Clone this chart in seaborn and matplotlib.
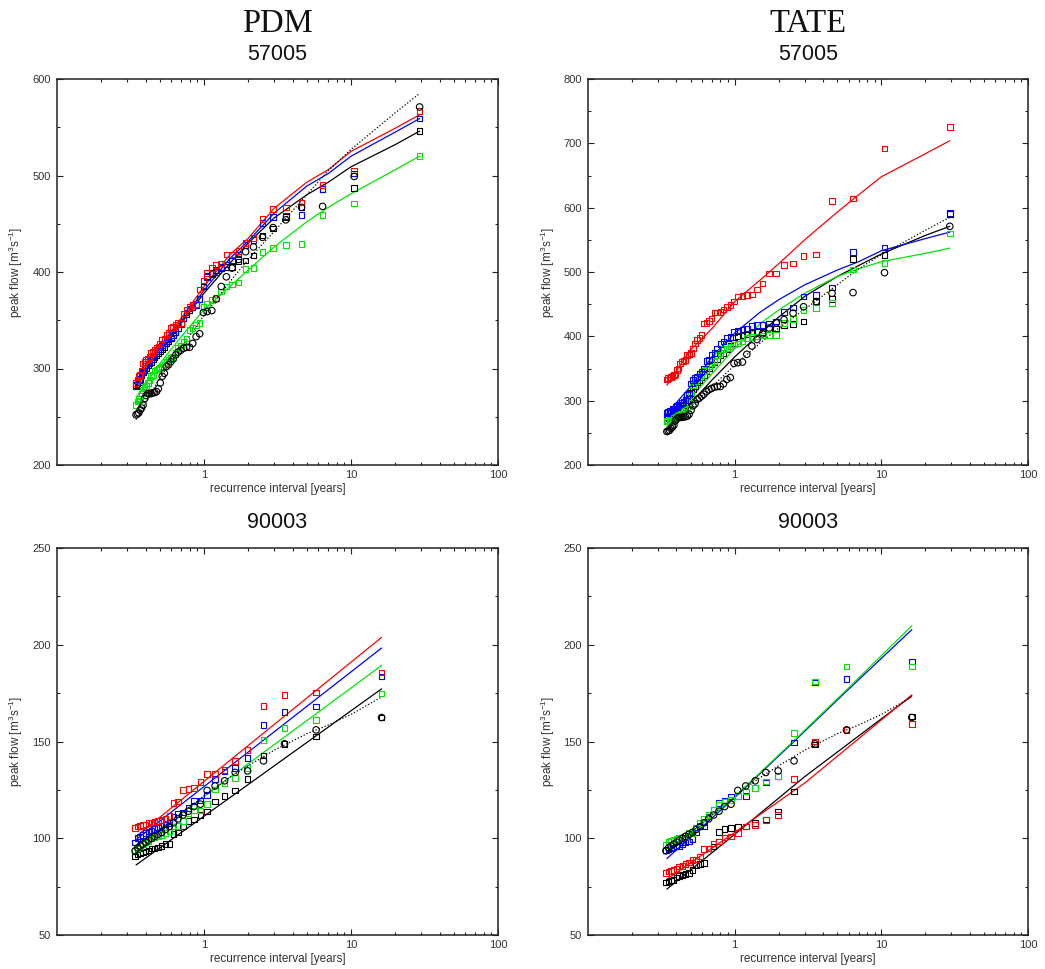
import matplotlib
matplotlib.use("Agg")
import matplotlib.pyplot as plt
import seaborn as sns
from matplotlib.ticker import LogLocator, NullFormatter, MultipleLocator

sns.set_theme(style="ticks")
plt.rcParams["font.family"] = ["Liberation Sans", "DejaVu Sans"]
plt.rcParams["mathtext.default"] = "regular"

# ---------------- station 57005 ----------------
# recurrence intervals of the ranked peaks (years)
x_57005 = [29.29, 10.51, 6.41, 4.61, 3.60, 2.95, 2.50, 2.17, 1.92, 1.72,
           1.55, 1.42, 1.31, 1.21, 1.13, 1.05, 0.99, 0.934, 0.884, 0.838,
           0.798, 0.761, 0.727, 0.696, 0.668, 0.642, 0.617, 0.595, 0.574, 0.555,
           0.537, 0.520, 0.504, 0.489, 0.475, 0.461, 0.449, 0.437, 0.425, 0.415,
           0.404, 0.395, 0.385, 0.376, 0.368, 0.360, 0.352, 0.345]

obs_57005 = [571, 499, 468, 467, 454, 446, 436, 426, 421, 413,
             404, 395, 385, 372, 360, 359, 358, 336, 333, 326,
             322, 322, 321, 319, 317, 314, 310, 307, 304, 302,
             295, 292, 285, 279, 276, 275, 275, 274, 274, 274,
             272, 269, 262, 259, 257, 254, 253, 252]

pdm_57005_red = [567, 505, 490, 472, 467, 465, 455, 435, 430, 422,
                 418, 418, 409, 407, 404, 399, 391, 382, 367, 366,
                 364, 361, 357, 347, 347, 345, 343, 342, 337, 335,
                 331, 330, 326, 323, 321, 319, 317, 316, 312, 310,
                 309, 307, 305, 298, 293, 292, 288, 285]
pdm_57005_blue = [559, 502, 486, 459, 458, 457, 451, 433, 428, 418,
                  412, 408, 405, 400, 398, 395, 386, 372, 366, 364,
                  362, 358, 352, 346, 342, 338, 335, 332, 330, 328,
                  326, 324, 322, 320, 318, 316, 313, 310, 307, 305,
                  303, 300, 297, 295, 292, 289, 286, 282]
pdm_57005_black = [546, 487, 486, 467, 457, 445, 438, 417, 412, 411,
                   405, 405, 404, 402, 399, 396, 385, 372, 366, 363,
                   360, 356, 352, 347, 342, 338, 334, 331, 328, 326,
                   322, 320, 318, 316, 314, 312, 310, 307, 305, 303,
                   300, 298, 296, 293, 288, 286, 284, 283]
pdm_57005_green = [520, 471, 459, 429, 428, 425, 421, 404, 403, 389,
                   387, 385, 380, 373, 371, 367, 364, 347, 345, 342,
                   340, 331, 328, 324, 321, 316, 312, 311, 309, 307,
                   304, 302, 301, 300, 299, 298, 293, 292, 288, 285,
                   282, 281, 278, 274, 269, 267, 266, 262]

tate_57005_red = [725, 692, 614, 610, 527, 525, 513, 511, 498, 498,
                  482, 473, 465, 464, 463, 462, 454, 449, 446, 442,
                  438, 437, 437, 428, 424, 421, 420, 402, 397, 394,
                  389, 381, 374, 372, 371, 363, 362, 361, 358, 350,
                  348, 341, 340, 338, 337, 336, 335, 333]
tate_57005_blue = [592, 538, 531, 476, 464, 462, 445, 438, 423, 420,
                   418, 418, 416, 412, 410, 409, 407, 399, 397, 392,
                   388, 381, 374, 372, 363, 362, 350, 345, 342, 337,
                   335, 332, 327, 311, 309, 301, 298, 296, 294, 293,
                   292, 290, 288, 287, 285, 284, 283, 281]
tate_57005_black = [590, 526, 520, 458, 454, 423, 419, 418, 412, 411,
                    407, 407, 405, 403, 402, 400, 390, 385, 380, 374,
                    370, 365, 360, 356, 350, 345, 340, 336, 332, 328,
                    322, 318, 312, 305, 300, 296, 292, 289, 287, 285,
                    283, 281, 280, 278, 276, 275, 274, 272]
tate_57005_green = [560, 514, 504, 452, 444, 441, 427, 421, 402, 402,
                    401, 400, 399, 397, 392, 389, 387, 384, 381, 380,
                    374, 371, 361, 358, 353, 348, 346, 340, 337, 335,
                    330, 324, 309, 296, 288, 286, 283, 280, 279, 278,
                    276, 275, 274, 273, 271, 270, 269, 268]

# fitted frequency curves, 57005
xc_57005 = [0.345, 0.5, 0.7, 1.0, 1.5, 2.0, 3.0, 5.0, 7.0, 10.0, 20.0, 29.3]
fit_57005 = [247, 290, 322, 355, 390, 413, 442, 480, 505, 527, 565, 585]
pdm_57005_red_curve = [286, 323, 352, 385, 418, 435, 466, 493, 506, 525, 549, 563]
pdm_57005_blue_curve = [281, 320, 349, 381, 414, 432, 461, 489, 502, 520, 545, 559]
pdm_57005_black_curve = [283, 319, 347, 378, 409, 430, 456, 480, 493, 509, 532, 546]
pdm_57005_green_curve = [270, 305, 333, 361, 385, 402, 426, 452, 467, 481, 506, 520]
tate_57005_red_curve = [324, 379, 412, 454, 488, 513, 550, 593, 620, 648, 684, 704]
tate_57005_blue_curve = [280, 322, 368, 405, 438, 457, 480, 503, 516, 533, 552, 562]
tate_57005_black_curve = [254, 296, 332, 368, 405, 430, 462, 493, 510, 528, 557, 571]
tate_57005_green_curve = [260, 304, 342, 381, 420, 441, 467, 493, 505, 516, 529, 537]

# ---------------- station 90003 ----------------
x_90003 = [16.14, 5.79, 3.53, 2.54, 1.98, 1.63, 1.38, 1.19, 1.05, 0.945,
           0.855, 0.782, 0.719, 0.665, 0.620, 0.581, 0.546, 0.515, 0.487, 0.462,
           0.440, 0.419, 0.401, 0.384, 0.368, 0.354, 0.340]

obs_90003 = [162.4, 156.0, 148.8, 140.0, 134.8, 134.0, 129.7, 127.0, 124.7, 117.6,
             116.4, 114.0, 112.0, 110.0, 108.0, 106.0, 104.5, 103.0, 102.0, 101.0,
             100.0, 99.0, 98.0, 97.0, 96.0, 95.0, 93.5]

pdm_90003_red = [185.7, 175.3, 174.1, 168.4, 145.7, 140.0, 135.3, 133.3, 133.1, 129.0,
                 125.9, 125.5, 125.0, 119.0, 118.1, 111.6, 110.3, 109.5, 109.0, 108.3,
                 108.1, 107.8, 107.2, 106.9, 106.4, 106.0, 105.2]
pdm_90003_blue = [183.6, 168.1, 165.2, 158.6, 141.4, 136.2, 134.5, 130.5, 122.4, 119.5,
                  119.3, 115.5, 113.3, 112.6, 111.2, 107.8, 107.2, 106.6, 105.5, 104.8,
                  104.0, 103.4, 102.6, 101.7, 100.9, 100.0, 97.8]
pdm_90003_black = [162.5, 152.6, 148.8, 142.8, 130.5, 124.7, 121.9, 119.0, 113.8, 112.1,
                   109.8, 109.0, 106.0, 102.9, 102.1, 97.1, 96.9, 96.0, 95.3, 94.8,
                   94.8, 93.6, 93.1, 92.6, 92.2, 91.7, 90.5]
pdm_90003_green = [174.7, 161.2, 156.9, 150.9, 136.2, 131.0, 128.4, 125.3, 117.8, 114.3,
                   114.3, 112.9, 109.0, 106.4, 106.0, 103.4, 102.6, 101.7, 101.2, 100.3,
                   100.0, 98.3, 97.8, 96.9, 96.0, 94.8, 93.6]

tate_90003_red = [159.0, 156.0, 150.0, 130.5, 112.1, 109.5, 106.9, 106.0, 102.6, 100.9,
                  100.5, 98.3, 97.4, 94.8, 94.5, 90.5, 89.1, 88.8, 87.4, 86.7,
                  85.7, 85.3, 84.0, 83.6, 83.1, 82.8, 81.9]
tate_90003_blue = [191.4, 182.4, 180.5, 149.5, 132.2, 128.8, 125.9, 121.9, 121.9, 121.6,
                   119.3, 118.1, 114.7, 111.2, 106.0, 106.0, 102.9, 99.5, 98.3, 97.8,
                   96.9, 96.0, 95.7, 95.3, 94.8, 94.3, 94.0]
tate_90003_black = [162.9, 156.0, 148.5, 124.1, 113.8, 109.8, 108.0, 106.0, 105.7, 105.2,
                    104.7, 103.1, 95.7, 94.8, 87.1, 86.7, 86.2, 83.6, 81.9, 81.6,
                    81.0, 80.5, 79.7, 78.4, 78.1, 77.6, 77.1]
tate_90003_green = [188.8, 188.8, 181.0, 154.3, 132.2, 129.3, 125.9, 124.1, 121.9, 119.8,
                    119.0, 117.2, 114.7, 112.1, 110.3, 107.8, 105.2, 102.6, 102.6, 101.2,
                    100.5, 100.0, 99.5, 99.1, 98.8, 98.3, 96.6]

# fitted frequency curves, 90003
xc_90003 = [0.345, 0.5, 0.7, 1.0, 1.5, 2.0, 3.0, 5.0, 7.0, 10.0, 16.14]
fit_90003 = [93, 103, 112, 122, 131.5, 137.5, 145.5, 154, 158.5, 164, 173]
xs_90003 = [0.345, 16.14]
pdm_90003_red_curve = [100.9, 203.8]
pdm_90003_blue_curve = [99.3, 198.3]
pdm_90003_black_curve = [86.2, 177.2]
pdm_90003_green_curve = [95.7, 189.3]
xg_90003 = [0.345, 1.0, 2.5, 5.79, 16.14]
tate_90003_green_curve = [93.0, 121.5, 150.0, 176.7, 209.8]
tate_90003_blue_curve = [89.5, 121.0, 149.5, 176.0, 207.8]
xk_90003 = [0.345, 1.0, 3.0, 16.14]
tate_90003_black_curve = [73.7, 102.0, 131.8, 173.6]
tate_90003_red_curve = [78.8, 103.0, 128.5, 174.1]

RED, BLUE, GREEN, BLACK = "#ff0000", "#0000ff", "#00e600", "#000000"
TXT = "#333333"

W, H = 1045, 969
fig = plt.figure(figsize=(W / 100, H / 100), dpi=100)


def make_axes(left, top, right, bottom):
    return fig.add_axes([left / W, 1 - bottom / H, (right - left) / W, (bottom - top) / H])


def style_axes(ax, ylim, ymajor, yminor, ylab_x):
    ax.set_xscale("log")
    ax.set_xlim(0.1, 100)
    ax.set_ylim(*ylim)
    ax.set_xticks([1, 10, 100], labels=["1", "10", "100"])
    ax.xaxis.set_minor_locator(LogLocator(base=10, subs=range(2, 10)))
    ax.xaxis.set_minor_formatter(NullFormatter())
    ax.yaxis.set_major_locator(MultipleLocator(ymajor))
    ax.yaxis.set_minor_locator(MultipleLocator(yminor))
    ax.tick_params(which="both", direction="in", top=True, right=True,
                   color="#222222", width=0.8, labelsize=8, labelcolor=TXT)
    ax.tick_params(which="major", length=4)
    ax.tick_params(which="minor", length=2.5)
    ax.tick_params(axis="x", pad=3.5)
    ax.tick_params(axis="y", pad=4.5)
    for sp in ax.spines.values():
        sp.set_linewidth(1.1)
        sp.set_color("#222222")
    ax.set_xlabel("recurrence interval [years]", fontsize=8.5, color=TXT, labelpad=2)
    ax.set_ylabel("peak flow [m$^{3}$s$^{-1}$]", fontsize=8.5, color=TXT)
    ax.yaxis.set_label_coords(ylab_x, 0.5)
    ax.grid(False)


def draw(ax, xp, obs, squares, curves, xfit, fit):
    for color, (cx, cy) in curves:
        sns.lineplot(x=cx, y=cy, ax=ax, color=color, linewidth=0.9,
                     sort=False, estimator=None, zorder=2)
    sns.lineplot(x=xfit, y=fit, ax=ax, color=BLACK, linewidth=0.9,
                 linestyle=(0, (1, 1.6)), sort=False, estimator=None, zorder=2)
    for color, vals in squares:
        sns.scatterplot(x=xp, y=vals, ax=ax, marker="s", s=16, facecolor="none",
                        edgecolor=color, linewidth=0.8, legend=False, zorder=3)
    sns.scatterplot(x=xp, y=obs, ax=ax, marker="o", s=22, facecolor="none",
                    edgecolor=BLACK, linewidth=0.8, legend=False, zorder=3)


# PDM 57005
ax1 = make_axes(57, 79, 498, 465)
ax1.set_xscale("log")
draw(ax1, x_57005, obs_57005,
     [(BLACK, pdm_57005_black), (GREEN, pdm_57005_green),
      (BLUE, pdm_57005_blue), (RED, pdm_57005_red)],
     [(BLACK, (xc_57005, pdm_57005_black_curve)), (GREEN, (xc_57005, pdm_57005_green_curve)),
      (BLUE, (xc_57005, pdm_57005_blue_curve)), (RED, (xc_57005, pdm_57005_red_curve))],
     xc_57005, fit_57005)
style_axes(ax1, (200, 600), 100, 50, -0.073)

# TATE 57005
ax2 = make_axes(588, 79, 1028, 465)
ax2.set_xscale("log")
draw(ax2, x_57005, obs_57005,
     [(BLACK, tate_57005_black), (GREEN, tate_57005_green),
      (BLUE, tate_57005_blue), (RED, tate_57005_red)],
     [(BLACK, (xc_57005, tate_57005_black_curve)), (GREEN, (xc_57005, tate_57005_green_curve)),
      (BLUE, (xc_57005, tate_57005_blue_curve)), (RED, (xc_57005, tate_57005_red_curve))],
     xc_57005, fit_57005)
style_axes(ax2, (200, 800), 100, 50, -0.071)

# PDM 90003
ax3 = make_axes(57, 548, 498, 935)
ax3.set_xscale("log")
draw(ax3, x_90003, obs_90003,
     [(BLACK, pdm_90003_black), (GREEN, pdm_90003_green),
      (BLUE, pdm_90003_blue), (RED, pdm_90003_red)],
     [(BLACK, (xs_90003, pdm_90003_black_curve)), (GREEN, (xs_90003, pdm_90003_green_curve)),
      (BLUE, (xs_90003, pdm_90003_blue_curve)), (RED, (xs_90003, pdm_90003_red_curve))],
     xc_90003, fit_90003)
style_axes(ax3, (50, 250), 50, 25, -0.073)

# TATE 90003
ax4 = make_axes(588, 548, 1028, 935)
ax4.set_xscale("log")
draw(ax4, x_90003, obs_90003,
     [(BLACK, tate_90003_black), (RED, tate_90003_red),
      (BLUE, tate_90003_blue), (GREEN, tate_90003_green)],
     [(BLACK, (xk_90003, tate_90003_black_curve)), (RED, (xk_90003, tate_90003_red_curve)),
      (BLUE, (xg_90003, tate_90003_blue_curve)), (GREEN, (xg_90003, tate_90003_green_curve))],
     xc_90003, fit_90003)
style_axes(ax4, (50, 250), 50, 25, -0.071)

# column and station headings
serif = ["Liberation Serif", "DejaVu Serif"]
fig.text(277 / W, 1 - 24 / H, "PDM", fontsize=23.5, family=serif,
         ha="center", va="center", color="#111111")
fig.text(808 / W, 1 - 24 / H, "TATE", fontsize=23.5, family=serif,
         ha="center", va="center", color="#111111")
for xc in (277, 808):
    fig.text(xc / W, 1 - 55 / H, "57005", fontsize=15.5, ha="center",
             va="center", color="#111111")
    fig.text(xc / W, 1 - 523 / H, "90003", fontsize=15.5, ha="center",
             va="center", color="#111111")

fig.savefig("out.png", dpi=100, facecolor="white")
